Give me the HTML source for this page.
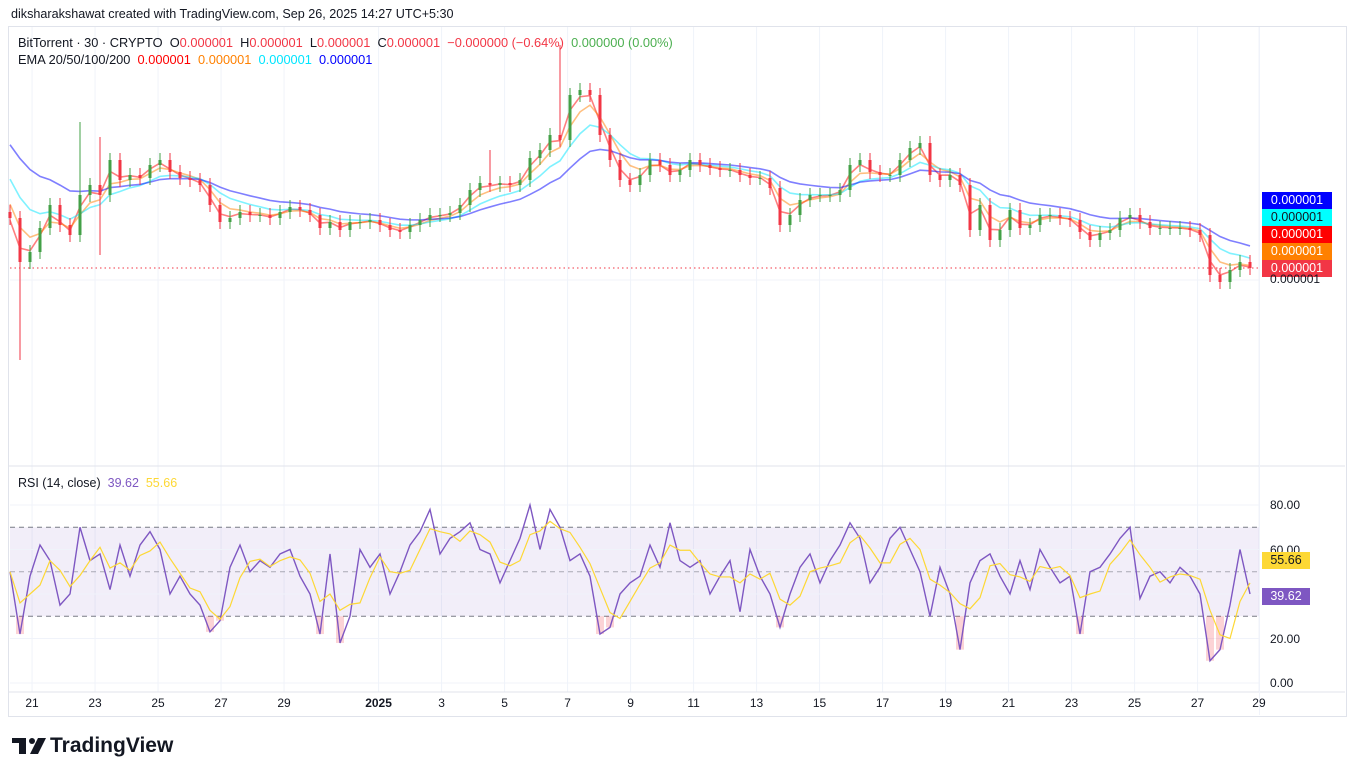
<!DOCTYPE html>
<html><head><meta charset="utf-8">
<style>
html,body{margin:0;padding:0;background:#fff;}
body{width:1355px;height:776px;position:relative;overflow:hidden;font-family:"Liberation Sans",sans-serif;color:#131722;}
.hdr{position:absolute;left:11px;top:7px;font-size:12.6px;color:#131722;}
.frame{position:absolute;left:8px;top:26px;width:1337px;height:689px;border:1px solid #e0e3eb;}
.lg{position:absolute;left:18px;font-size:12.8px;white-space:nowrap;}
.tag{position:absolute;left:1262px;width:70px;height:17px;font-size:12.5px;line-height:17px;text-align:center;}
.ax{position:absolute;font-size:12px;color:#131722;}
</style></head><body>
<div class="hdr">diksharakshawat created with TradingView.com, Sep 26, 2025 14:27 UTC+5:30</div>
<div class="frame"></div>
<svg id="chart" width="1355" height="776" style="position:absolute;left:0;top:0"></svg>
<div class="lg" style="top:35px">BitTorrent · 30 · CRYPTO&nbsp; O<span style="color:#f23645">0.000001</span>&nbsp; H<span style="color:#f23645">0.000001</span>&nbsp; L<span style="color:#f23645">0.000001</span>&nbsp; C<span style="color:#f23645">0.000001</span>&nbsp; <span style="color:#f23645">−0.000000 (−0.64%)</span>&nbsp; <span style="color:#4caf50">0.000000 (0.00%)</span></div>
<div class="lg" style="top:52px">EMA 20/50/100/200&nbsp; <span style="color:#ff0000">0.000001</span>&nbsp; <span style="color:#ff8000">0.000001</span>&nbsp; <span style="color:#00e5ff">0.000001</span>&nbsp; <span style="color:#0000ff">0.000001</span></div>
<div class="lg" style="top:476px;font-size:12.5px">RSI (14, close)&nbsp; <span style="color:#7e57c2">39.62</span>&nbsp; <span style="color:#fdd835">55.66</span></div>
<div class="tag" style="top:192px;background:#0000ff;color:#fff">0.000001</div>
<div class="tag" style="top:209px;background:#00ffff;color:#131722">0.000001</div>
<div class="tag" style="top:226px;background:#ff0000;color:#fff">0.000001</div>
<div class="tag" style="top:243px;background:#ff8000;color:#fff">0.000001</div>
<div class="tag" style="top:260px;background:#f23645;color:#fff">0.000001</div>
<div class="ax" style="left:1270px;top:272px">0.000001</div>
<div class="ax" style="left:1270px;top:498px">80.00</div>
<div class="ax" style="left:1270px;top:543px">60.00</div>
<div class="ax" style="left:1270px;top:632px">20.00</div>
<div class="ax" style="left:1270px;top:676px">0.00</div>
<div class="tag" style="top:552px;height:17px;width:48px;background:#fdd835;color:#131722">55.66</div>
<div class="tag" style="top:588px;height:17px;width:48px;background:#7e57c2;color:#fff">39.62</div>
<div id="times"></div>
<div style="position:absolute;left:12px;top:734px;display:flex;align-items:center">
<svg width="36" height="22" viewBox="0 0 36 22"><rect x="0" y="3" width="14" height="5" fill="#131722"/><rect x="7" y="3" width="7" height="16" fill="#131722"/><circle cx="20" cy="6" r="3" fill="#131722"/><polygon points="26,3 34,3 26,19 18,19" fill="#131722"/></svg>
<span style="font-size:21px;font-weight:bold;margin-left:2px;color:#131722">TradingView</span></div>
<script>
// price data in units of 1e-8
const closes=[131,109,114,126,137.5,127.5,122.5,142.5,147.5,142.5,
160,150,152.5,151,157.5,160,154,151,150,147.5,
137.5,129,131,134,132.5,132.5,131,134,136.5,135,
132.5,126,129,125,129,129,130,127.5,125,124,
127.5,130,132.5,132.5,133.5,137.5,145,148.5,147.5,148.5,
147.5,150,161,165,172.5,170,192.5,195,192.5,172.5,
160,150,147.5,152.5,160,157.5,152.5,155,160,157.5,
156,155,155,152.5,151,151,146,127.5,132.5,140,
142.5,142.5,142.5,145,157.5,160,154,152.5,152.5,160,
166,168.5,152.5,150,152.5,147.5,125,137.5,120,125,
135,126,127.5,132.5,132.5,131,130,124,120,123.5,
125,131,132.5,129,126,126,126,126,125,122.5,
102.5,99,105,109,106];
const spikeIdx=[1,7,9,55,48,97];
const spikeHigh=[null,179,171.5,217.5,165,null];
const spikeLow=[60,null,112.5,null,null,122];
const emaPeriods=[2,4,8,16];
const emaSeeds=[127.5,142.5,156,172.5];
const emaColors=['#ff0000','#ff8000','#00e5ff','#0000ff'];
const rsi=[50,22,48,62,55,35,40,70,55,58,42,62,48,62,68,60,40,48,40,35,23,28,52,62,50,55,52,58,60,48,40,22,58,18,30,60,52,58,40,50,
62,68,78,58,65,68,72,60,58,45,55,65,80,60,78,70,55,58,48,22,25,40,45,48,62,52,72,55,52,55,40,48,55,32,60,48,40,25,40,52,
58,45,55,62,72,65,45,52,65,70,60,50,30,52,40,15,45,55,58,48,40,55,42,60,52,45,48,22,50,52,58,65,70,38,48,50,45,52,48,40,
10,15,35,60,40];
const dayLabels=['21','23','25','27','29','2025','3','5','7','9','11','13','15','17','19','21','23','25','27','29'];
const dayPos=[0.7,2.7,4.7,6.7,8.7,11.7,13.7,15.7,17.7,19.7,21.7,23.7,25.7,27.7,29.7,31.7,33.7,35.7,37.7,39.65];

const NS='http://www.w3.org/2000/svg';
const svg=document.getElementById('chart');
function el(t,a){const e=document.createElementNS(NS,t);for(const k in a)e.setAttribute(k,a[k]);svg.appendChild(e);return e;}
const xi=i=>10+i*10;
const xd=d=>10+d*31.5;
const yp=p=>480-2*p;
const yr=v=>683-v*2.225;
const times=document.getElementById('times');
dayPos.forEach((d,k)=>{
  const g=el('line',{x1:xd(d),x2:xd(d),y1:27,y2:692,stroke:'#f0f3fa','stroke-width':1});
  
  
  const t=document.createElement('div');
  t.className='ax';t.textContent=dayLabels[k];
  t.style.left=(xd(d)-20)+'px';t.style.width='40px';t.style.textAlign='center';t.style.top='696px';
  if(dayLabels[k]==='2025')t.style.fontWeight='bold';
  
  
  times.appendChild(t);
});
[yp(100)].forEach(y=>{const g=el('line',{x1:10,x2:1259,y1:y,y2:y,stroke:'#f0f3fa'});
});
[466,692].forEach(y=>{const g=el('line',{x1:9,x2:1345,y1:y,y2:y,stroke:'#e0e3eb'});
});
const vs=el('line',{x1:1259.5,x2:1259.5,y1:27,y2:715,stroke:'#f0f3fa'});

const lp=el('line',{x1:10,x2:1259,y1:yp(closes[closes.length-1]),y2:yp(closes[closes.length-1]),stroke:'#f23645','stroke-dasharray':'1.5 3'});

emaPeriods.forEach((n,k)=>{
  const a=2/(n+1);let e=emaSeeds[k];const pts=[];
  closes.forEach((c,i)=>{e=a*c+(1-a)*e;pts.push(xi(i)+','+yp(e));});
  const pl=el('polyline',{points:pts.join(' '),fill:'none',stroke:emaColors[k],'stroke-opacity':0.5,'stroke-width':1.6});
  
  
});
closes.forEach((c,i)=>{
  const o=i===0?c+3:closes[i-1];
  let hi=Math.max(o,c)+3.5,lo=Math.min(o,c)-3.5;
  const s=spikeIdx.indexOf(i);
  if(s>=0){if(spikeHigh[s]!==null)hi=spikeHigh[s];if(spikeLow[s]!==null)lo=spikeLow[s];}
  const col=c>=o?'#43a047':'#f23645';
  const w=el('line',{x1:xi(i),x2:xi(i),y1:yp(hi),y2:yp(lo),stroke:col,'stroke-width':1});
  
  
  const top=yp(Math.max(o,c)),bot=yp(Math.min(o,c));
  const b=el('rect',{x:xi(i)-1.5,y:top,width:3,height:Math.max(1,bot-top),fill:col});
  
  
});
const band=el('rect',{x:10,y:yr(70),width:1249,height:yr(30)-yr(70),fill:'rgba(126,87,194,0.1)'});

[80,60,40,20,0].forEach(v=>{const g=el('line',{x1:10,x2:1259,y1:yr(v),y2:yr(v),stroke:'#f0f3fa'});
});
[70,50,30].forEach(v=>{const g=el('line',{x1:10,x2:1259,y1:yr(v),y2:yr(v),stroke:'#787b86','stroke-dasharray':'5 4','stroke-width':1,'stroke-opacity':v===50?0.6:1});
});
rsi.forEach((v,i)=>{if(v<30){const f=el('rect',{x:xi(i)-4,y:yr(30),width:8,height:yr(v)-yr(30),fill:'rgba(242,54,69,0.22)'});
}});
const rp=el('polyline',{points:rsi.map((v,i)=>xi(i)+','+yr(v)).join(' '),fill:'none',stroke:'#7e57c2','stroke-width':1.4});

const ma=rsi.map((v,i)=>{const s=rsi.slice(Math.max(0,i-2),i+1);return s.reduce((a,b)=>a+b,0)/s.length;});
const mp=el('polyline',{points:ma.map((v,i)=>xi(i)+','+yr(v)).join(' '),fill:'none',stroke:'#fdd835','stroke-width':1.2});

</script>
</body></html>
